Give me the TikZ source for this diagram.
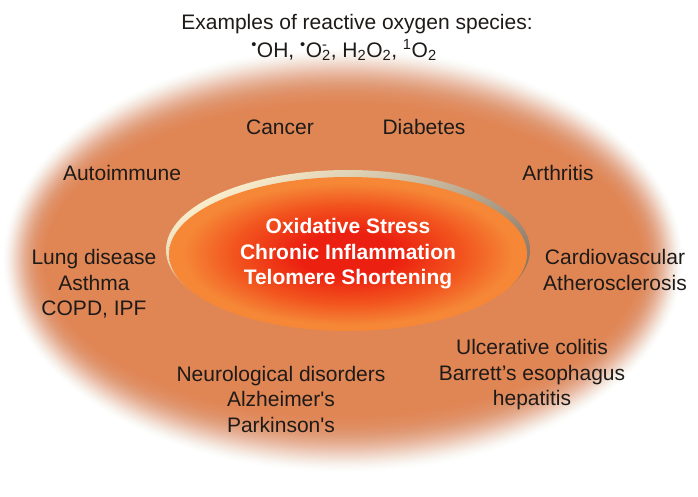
\documentclass[tikz,border=0pt]{standalone}
\usepackage{fontspec}
\setmainfont{Liberation Sans}
\usetikzlibrary{shapes.geometric}
\definecolor{glowc}{RGB}{224,134,84}
\definecolor{corered}{RGB}{236,32,16}
\definecolor{coremid}{RGB}{242,84,30}
\definecolor{coreedge}{RGB}{245,135,55}
\definecolor{rimlight}{RGB}{250,238,205}
\definecolor{rimdark}{RGB}{130,110,95}
\definecolor{labeltext}{RGB}{30,26,24}
\pgfdeclareradialshading{coreshade}{\pgfpoint{0bp}{0bp}}{color(0bp)=(corered); color(7bp)=(corered); color(16bp)=(coremid); color(23bp)=(coreedge); color(25bp)=(coreedge); color(50bp)=(coreedge)}
\newcommand\straightapos{\XeTeXglyph\XeTeXcharglyph"27\relax}
\tikzset{
  lbl/.style={font=\fontsize{21}{25.5}\selectfont, text=labeltext, align=center, inner sep=0pt},
  coretext/.style={font=\fontsize{21}{25.5}\selectfont\bfseries, text=white, align=center},
}
\begin{document}
\begin{tikzpicture}[x=1pt,y=-1pt]
\useasboundingbox[fill=white] (0,0) rectangle (698,496);
% soft glow: stacked translucent ellipses, solid core
\foreach \i in {0,...,59}{
  \pgfmathsetmacro\ringop{0.006+0.0025*\i}
  \fill[glowc, fill opacity=\ringop] (343,260) ellipse [x radius={340-\i*0.9}, y radius={212-\i*1.18}];
}
\fill[glowc] (343,260) ellipse [x radius=286, y radius=141];
% rim of the central ellipse
\shade[top color=rimlight, bottom color=rimdark, shading angle=30] (348,250) ellipse [x radius=182, y radius=80];
\node[ellipse, minimum width=358pt, minimum height=154pt, shading=coreshade, inner sep=0pt, coretext] (core) at (348,254)
  {Oxidative Stress\\Chronic Inflammation\\Telomere Shortening};
% title
\node[lbl, anchor=base] (title1) at (357,29) {Examples of reactive oxygen species:};
\node[lbl, anchor=base] (title2) at (344,57) {\textsuperscript{•}OH, \textsuperscript{•}O\rlap{\textsuperscript{-}}\textsubscript{2}, H\textsubscript{2}O\textsubscript{2}, \textsuperscript{1}O\textsubscript{2}};
% labels
\node[lbl, anchor=base] (cancer) at (280,134) {Cancer};
\node[lbl, anchor=base] (diabetes) at (424,134) {Diabetes};
\node[lbl, anchor=base] (autoimmune) at (122,180) {Autoimmune};
\node[lbl, anchor=base] (arthritis) at (558,180) {Arthritis};
\node[lbl] (lung) at (94,284) {Lung disease\\Asthma\\COPD, IPF};
\node[lbl] (cardio) at (615,270) {Cardiovascular\\Atherosclerosis};
\node[lbl] (gut) at (532,375) {Ulcerative colitis\\Barrett's esophagus\\hepatitis};
\node[lbl] (neuro) at (281,399) {Neurological disorders\\Alzheimer\straightapos s\\Parkinson\straightapos s};
\end{tikzpicture}
\end{document}
